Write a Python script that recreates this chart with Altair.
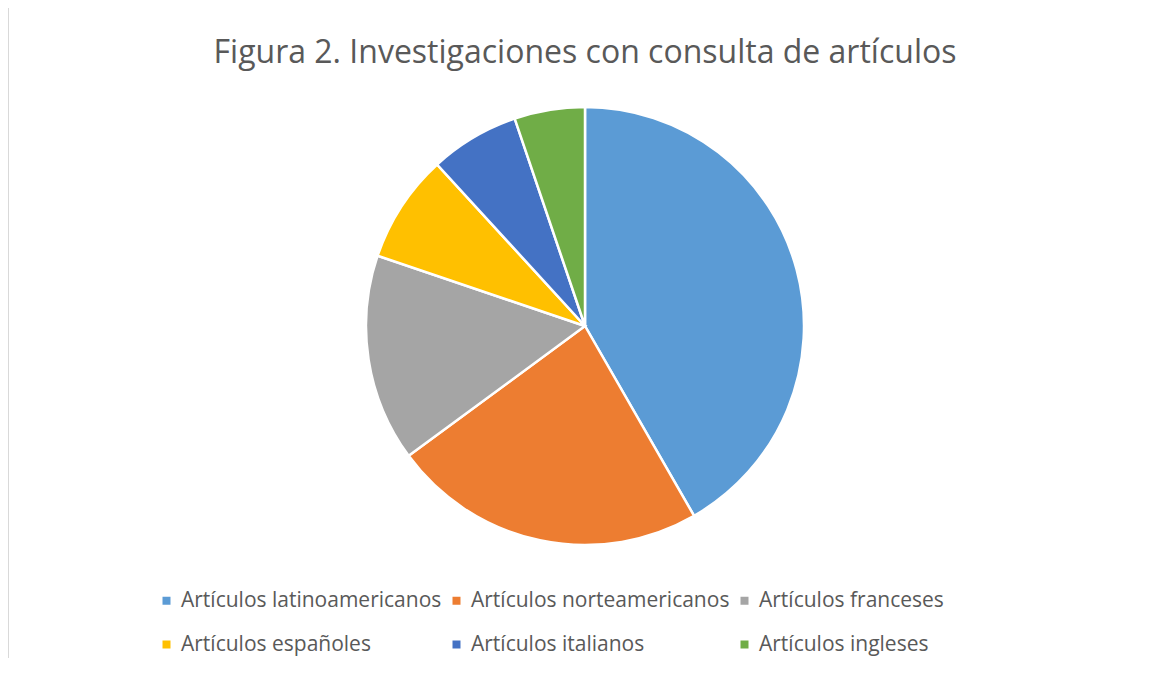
import altair as alt
import pandas as pd

categories = [
    "Artículos latinoamericanos",
    "Artículos norteamericanos",
    "Artículos franceses",
    "Artículos españoles",
    "Artículos italianos",
    "Artículos ingleses",
]
values = [41.7, 23.2, 15.3, 8.0, 6.6, 5.2]
colors = ["#5B9BD5", "#ED7D31", "#A5A5A5", "#FFC000", "#4472C4", "#70AD47"]
title_text = ["Figura 2. Investigaciones con consulta de artículos"]

df = pd.DataFrame({"cat": categories, "val": values, "idx": list(range(len(categories)))})

W, H = 1143, 650
FONT = "Open Sans"

pie = alt.Chart(df).mark_arc(radius=219, stroke="white", strokeWidth=2.5).encode(
    theta=alt.Theta("val:Q", stack=True),
    order=alt.Order("idx:Q", sort="ascending"),
    color=alt.Color(
        "cat:N",
        scale=alt.Scale(domain=categories, range=colors),
        sort=categories,
        legend=alt.Legend(
            title=None,
            orient="none",
            direction="horizontal",
            legendX=148,
            legendY=582,
            columns=3,
            symbolType="square",
            symbolSize=64,
            symbolStrokeWidth=0,
            labelFontSize=21,
            labelFont=FONT,
            labelColor="#595959",
            labelOffset=4,
            labelLimit=0,
            columnPadding=4,
            rowPadding=22,
        ),
    ),
    x=alt.value(577),
    y=alt.value(318),
)

title = alt.Chart(pd.DataFrame({"t": title_text})).mark_text(
    font=FONT, fontSize=32, color="#595959", align="center", baseline="alphabetic"
).encode(text="t:N", x=alt.value(577), y=alt.value(55))

border_df = pd.DataFrame({"a": [0]})
left_border = alt.Chart(border_df).mark_rule(color="#d9d9d9", strokeWidth=1).encode(
    x=alt.value(0.5), y=alt.value(-1), y2=alt.value(H + 10)
)
top_border = alt.Chart(border_df).mark_rule(color="#d9d9d9", strokeWidth=1).encode(
    x=alt.value(0), x2=alt.value(W + 10), y=alt.value(-1.5)
)

chart = alt.layer(left_border, top_border, title, pie).properties(
    width=W,
    height=H,
    autosize=alt.AutoSizeParams(type="none"),
    padding=0,
).configure_view(stroke=None)

chart.save("out.html", embed_options={"renderer": "svg", "actions": False})
